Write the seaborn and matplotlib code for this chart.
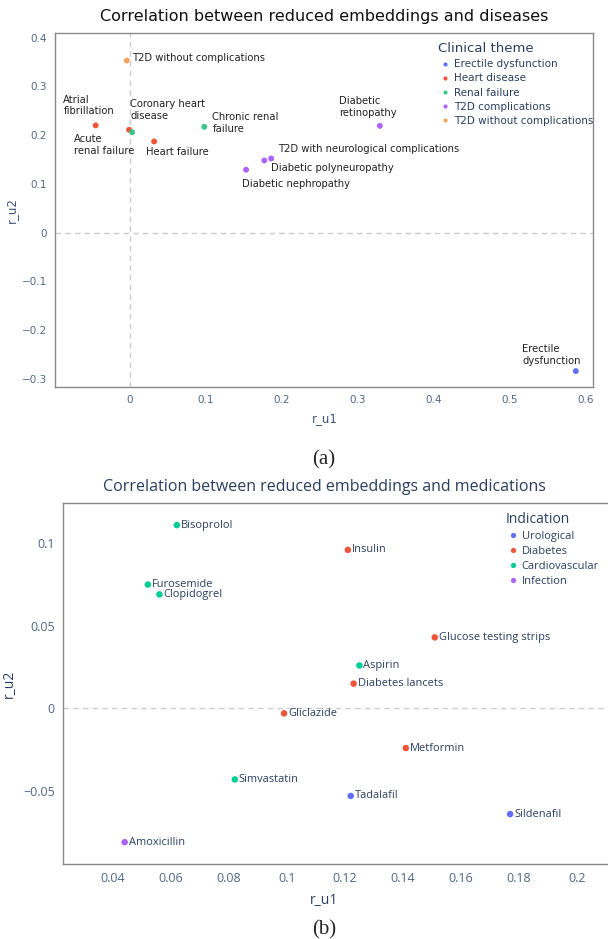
import numpy as np
import pandas as pd
import seaborn as sns
import matplotlib.pyplot as plt
from matplotlib.ticker import FuncFormatter

# ==========================================
# DATOS: enfermedades (panel a)
# ==========================================
disease_names = [
    "T2D without complications", "Atrial\nfibrillation", "Coronary heart\ndisease",
    "Acute\nrenal failure", "Heart failure", "Chronic renal\nfailure",
    "Diabetic\nretinopathy", "T2D with neurological complications",
    "Diabetic polyneuropathy", "Diabetic nephropathy", "Erectile\ndysfunction",
]
disease_theme = [
    "T2D without complications", "Heart disease", "Heart disease",
    "Renal failure", "Heart disease", "Renal failure",
    "T2D complications", "T2D complications",
    "T2D complications", "T2D complications", "Erectile dysfunction",
]
disease_r_u1 = [-0.004, -0.045, -0.001, 0.003, 0.032, 0.098, 0.329, 0.186, 0.177, 0.153, 0.587]
disease_r_u2 = [0.353, 0.220, 0.211, 0.206, 0.187, 0.217, 0.219, 0.152, 0.148, 0.129, -0.284]
theme_order = ["Erectile dysfunction", "Heart disease", "Renal failure",
               "T2D complications", "T2D without complications"]
ticks_a_x = [0, 0.1, 0.2, 0.3, 0.4, 0.5, 0.6]
ticks_a_y = [-0.3, -0.2, -0.1, 0, 0.1, 0.2, 0.3, 0.4]

# ==========================================
# DATOS: medicamentos (panel b)
# ==========================================
med_names = ["Bisoprolol", "Insulin", "Furosemide", "Clopidogrel", "Glucose testing strips",
             "Aspirin", "Diabetes lancets", "Gliclazide", "Metformin", "Simvastatin",
             "Tadalafil", "Sildenafil", "Amoxicillin"]
med_indication = ["Cardiovascular", "Diabetes", "Cardiovascular", "Cardiovascular", "Diabetes",
                  "Cardiovascular", "Diabetes", "Diabetes", "Diabetes", "Cardiovascular",
                  "Urological", "Urological", "Infection"]
med_r_u1 = [0.062, 0.121, 0.052, 0.056, 0.151, 0.125, 0.123, 0.099, 0.141, 0.082, 0.122, 0.177, 0.044]
med_r_u2 = [0.111, 0.096, 0.075, 0.069, 0.043, 0.026, 0.015, -0.003, -0.024, -0.043, -0.053, -0.064, -0.081]
indication_order = ["Urological", "Diabetes", "Cardiovascular", "Infection"]
ticks_b_x = [0.04, 0.06, 0.08, 0.1, 0.12, 0.14, 0.16, 0.18, 0.2]
ticks_b_y = [-0.05, 0, 0.05, 0.1]

# colores estilo plotly
pal_a = {"Erectile dysfunction": "#636efa", "Heart disease": "#ef553b", "Renal failure": "#3cc48c",
         "T2D complications": "#ab63fa", "T2D without complications": "#f7a35c"}
pal_b = {"Urological": "#636efa", "Diabetes": "#ef553b", "Cardiovascular": "#00cc96",
         "Infection": "#ab63fa"}

# posiciones de las etiquetas (pixeles desde el punto)
label_pos_a = [(5, 3, "left", "center"), (-7, 9, "center", "bottom"), (1, 9, "left", "bottom"),
               (2, -2, "right", "top"), (-8, -6, "left", "top"), (8, 4, "left", "center"),
               (-12, 8, "center", "bottom"), (7, 10, "left", "center"), (7, -8, "left", "center"),
               (-4, -14, "left", "center"), (5, 5, "right", "bottom")]

INK = "#2a3f5f"
TICK = "#506784"

sns.set_theme(style="white")
plt.rcParams['font.family'] = ['DejaVu Sans']

fig = plt.figure(figsize=(6.08, 9.39), dpi=100)


def fmt(v, pos):
    return f"{round(v, 6):g}".replace("-", "\u2212")


def style_axes(ax, tick_size, label_size, label_color):
    for s in ax.spines.values():
        s.set_color("#8a8a8a")
        s.set_linewidth(1.0)
    ax.tick_params(length=0, labelsize=tick_size, colors=TICK, pad=6)
    ax.xaxis.set_major_formatter(FuncFormatter(fmt))
    ax.yaxis.set_major_formatter(FuncFormatter(fmt))
    ax.set_xlabel("r_u1", fontsize=label_size, color=label_color)
    ax.set_ylabel("r_u2", fontsize=label_size, color=label_color)


# ==========================================
# PANEL (a)
# ==========================================
df_a = pd.DataFrame({"name": disease_names, "theme": disease_theme,
                     "r_u1": disease_r_u1, "r_u2": disease_r_u2})
ax1 = fig.add_axes([0.0911, 0.5882, 0.8847, 0.3764])
ax1.axhline(0, color="#cccccc", lw=1, ls=(0, (4, 3)), zorder=0)
ax1.axvline(0, color="#cccccc", lw=1, ls=(0, (4, 3)), zorder=0)
sns.scatterplot(data=df_a, x="r_u1", y="r_u2", hue="theme", hue_order=theme_order,
                palette=pal_a, s=18, edgecolor="none", ax=ax1, zorder=3)
for (name, x, y), (dx, dy, ha, va) in zip(zip(disease_names, disease_r_u1, disease_r_u2), label_pos_a):
    ax1.annotate(name, (x, y), xytext=(dx, dy), textcoords="offset pixels",
                 ha=ha, va=va, fontsize=7.2, color="#222222", multialignment="left")
ax1.set_xlim(-0.098, 0.610)
ax1.set_ylim(-0.316, 0.409)
ax1.set_xticks(ticks_a_x)
ax1.set_yticks(ticks_a_y)
style_axes(ax1, 7.5, 8.5, "#3d5478")
ax1.yaxis.set_label_coords(-0.0695, 0.5)
ax1.xaxis.set_label_coords(0.5, -0.0716)
ax1.set_title("Correlation between reduced embeddings and diseases", fontsize=11.5,
              color="#111111", pad=9)
sns.move_legend(ax1, "upper left", bbox_to_anchor=(0.711, 0.975), frameon=False,
                title="Clinical theme", title_fontsize=9.5, fontsize=7.5,
                handlelength=1.35, handletextpad=0.2, labelspacing=0.4, borderaxespad=0,
                borderpad=0, markerscale=0.7, alignment="left")
for t in ax1.get_legend().get_texts():
    t.set_color(INK)
ax1.get_legend().get_title().set_color(INK)

fig.text(0.533, 0.51, "(a)", ha="center", va="center", fontsize=15, family="Liberation Serif")

# ==========================================
# PANEL (b)
# ==========================================
df_b = pd.DataFrame({"name": med_names, "indication": med_indication,
                     "r_u1": med_r_u1, "r_u2": med_r_u2})
ax2 = fig.add_axes([0.104, 0.0799, 0.899, 0.3841])
ax2.axhline(0, color="#cccccc", lw=1, ls=(0, (4, 3)), zorder=0)
sns.scatterplot(data=df_b, x="r_u1", y="r_u2", hue="indication", hue_order=indication_order,
                palette=pal_b, s=22, edgecolor="none", ax=ax2, zorder=3)
for name, x, y in zip(med_names, med_r_u1, med_r_u2):
    ax2.annotate(name, (x, y), xytext=(4, 0), textcoords="offset pixels",
                 ha="left", va="center", fontsize=7.9, color=INK, family="Open Sans")
ax2.set_xlim(0.0228, 0.2114)
ax2.set_ylim(-0.0942, 0.1242)
ax2.set_xticks(ticks_b_x)
ax2.set_yticks(ticks_b_y)
style_axes(ax2, 9, 10, INK)
for t in ax2.get_xticklabels() + ax2.get_yticklabels():
    t.set_family("Open Sans")
ax2.xaxis.label.set_family("Open Sans")
ax2.yaxis.label.set_family("Open Sans")
ax2.yaxis.set_label_coords(-0.0845, 0.5)
ax2.xaxis.set_label_coords(0.477, -0.080)
ax2.set_title("Correlation between reduced embeddings and medications", fontsize=11.5,
              color=INK, pad=9, family="Open Sans", x=0.477)
sns.move_legend(ax2, "upper left", bbox_to_anchor=(0.8096, 0.976), frameon=False,
                title="Indication", title_fontsize=10,
                handlelength=1.37, handletextpad=0.07, labelspacing=0.35, borderaxespad=0,
                borderpad=0, markerscale=0.8, alignment="left",
                prop={"family": "Open Sans", "size": 8})
for t in ax2.get_legend().get_texts():
    t.set_color(INK)
ax2.get_legend().get_title().set_color(INK)
ax2.get_legend().get_title().set_family("Open Sans")

fig.text(0.533, 0.0096, "(b)", ha="center", va="center", fontsize=15, family="Liberation Serif")

fig.savefig("out.png", dpi=100, facecolor="white")
